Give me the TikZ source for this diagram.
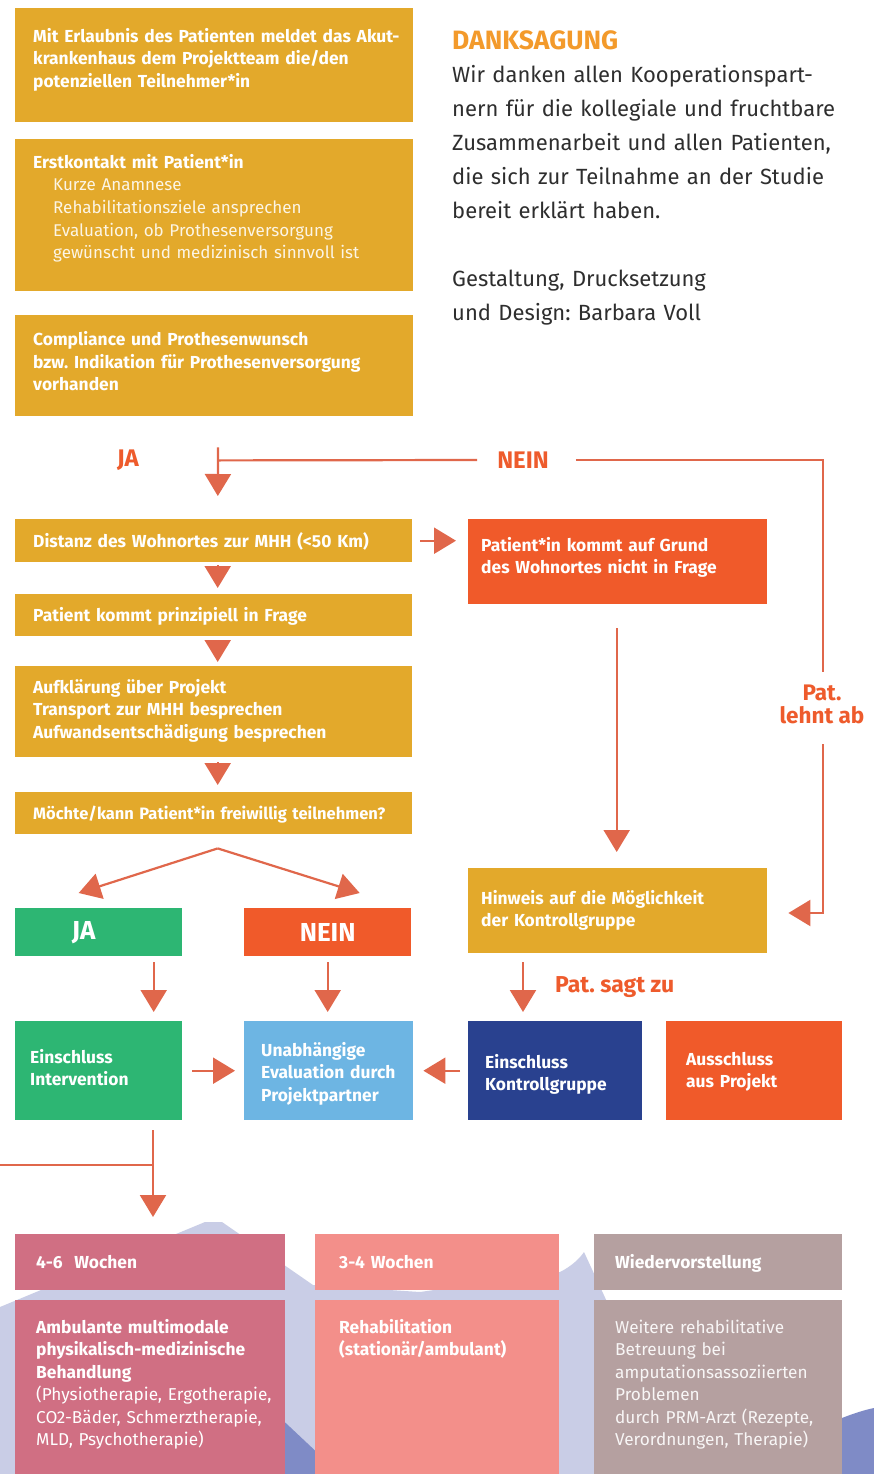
\documentclass[tikz,border=0pt]{standalone}
\usepackage{fontspec}
\setmainfont{Fira Sans}
\usetikzlibrary{arrows.meta,calc}
\frenchspacing
\definecolor{gold}{HTML}{E3A92B}
\definecolor{redo}{HTML}{F05A2A}
\definecolor{arrc}{HTML}{E0674B}
\definecolor{lblc}{HTML}{EE5B2C}
\definecolor{dank}{HTML}{F39A2B}
\definecolor{bodyc}{HTML}{2E2E2E}
\definecolor{grn}{HTML}{2DB673}
\definecolor{lblue}{HTML}{6DB5E3}
\definecolor{navy}{HTML}{29418F}
\definecolor{pinkc}{HTML}{D06F83}
\definecolor{salm}{HTML}{F38F8A}
\definecolor{taupe}{HTML}{B5A0A0}
\definecolor{lav}{HTML}{C9CDE6}
\definecolor{lavd}{HTML}{7F8BC6}
\tikzset{
  box/.style={draw=none, inner sep=0pt, anchor=north west, fill=#1},
  wb/.style={anchor=base west, align=left, inner sep=0pt, text=white, text width=#1,
    font=\fontsize{17.4}{22.5}\selectfont\bfseries},
  wr/.style={anchor=base west, align=left, inner sep=0pt, text=white!88!gold, text width=#1,
    font=\fontsize{17}{22.5}\selectfont},
  cb/.style={anchor=base west, align=left, inner sep=0pt, text=white, text width=#1,
    font=\fontsize{17.4}{22.5}\selectfont\bfseries},
  cr/.style={anchor=base west, align=left, inner sep=0pt, text=white, text width=#1,
    font=\fontsize{17.2}{22.5}\selectfont},
  arr/.style={draw=arrc, line width=2.2pt, -{Triangle[width=26pt,length=22pt]}},
  ln/.style={draw=arrc, line width=2.2pt},
  lbl/.style={text=lblc, inner sep=0pt, font=\fontsize{24}{24}\selectfont\bfseries},
}
\begin{document}
\begin{tikzpicture}[x=1pt,y=-1pt]
\useasboundingbox[fill=white] (0,0) rectangle (874,1474);
% background mountains
\fill[lav] (0,1307) -- (205,1222) -- (222,1222) -- (313,1285) -- (420,1292) -- (560,1272)
  .. controls (572,1266) and (580,1258) .. (584,1252) -- (620,1330) -- (700,1474) -- (0,1474) -- cycle;
\fill[lavd] (150,1474) -- (240,1380) -- (340,1474) -- cycle;
\fill[lavd] (760,1474) -- (842,1418) .. controls (852,1414) and (864,1410) .. (874,1408) -- (874,1474) -- cycle;

% boxes
\node[box=gold, minimum width=398pt, minimum height=114pt] (b1) at (15,8) {};
\node[box=gold, minimum width=398pt, minimum height=152pt] (b2) at (15,139) {};
\node[box=gold, minimum width=398pt, minimum height=101pt] (b3) at (15,315) {};
\node[box=gold, minimum width=397pt, minimum height=43pt] (dist) at (15,519) {};
\node[box=gold, minimum width=397pt, minimum height=42pt] (prin) at (15,594) {};
\node[box=gold, minimum width=397pt, minimum height=91pt] (auf) at (15,666) {};
\node[box=gold, minimum width=397pt, minimum height=42pt] (moe) at (15,792) {};
\node[box=redo, minimum width=299pt, minimum height=85pt] (pnot) at (468,519) {};
\node[box=grn, minimum width=167pt, minimum height=48pt] (ja) at (15,908) {};
\node[box=redo, minimum width=167pt, minimum height=48pt] (nein) at (244,908) {};
\node[box=gold, minimum width=299pt, minimum height=85pt] (hin) at (468,868) {};
\node[box=grn, minimum width=167pt, minimum height=99pt] (ein) at (15,1021) {};
\node[box=lblue, minimum width=169pt, minimum height=99pt] (una) at (244,1021) {};
\node[box=navy, minimum width=174pt, minimum height=99pt] (kon) at (468,1021) {};
\node[box=redo, minimum width=176pt, minimum height=99pt] (aus) at (666,1021) {};
\node[box=pinkc, minimum width=270pt, minimum height=56pt] (h1) at (15,1234) {};
\node[box=salm, minimum width=244pt, minimum height=56pt] (h2) at (315,1234) {};
\node[box=taupe, minimum width=248pt, minimum height=56pt] (h3) at (594,1234) {};
\node[box=pinkc, minimum width=270pt, minimum height=174pt] (c1) at (15,1300) {};
\node[box=salm, minimum width=244pt, minimum height=174pt] (c2) at (315,1300) {};
\node[box=taupe, minimum width=248pt, minimum height=174pt] (c3) at (594,1300) {};

% texts in boxes
\node[wb=385pt] (t1) at (33,42.5) {Mit Erlaubnis des Patienten meldet das Akut-\\krankenhaus dem Projektteam die/den\\potenziellen Teilnehmer*in};
\node[wb=385pt] (t2) at (33,168.5) {Erstkontakt mit Patient*in};
\node[wr=360pt] (t2r) at (53,191) {Kurze Anamnese\\Rehabilitationsziele ansprechen\\Evaluation, ob Prothesenversorgung\\gewünscht und medizinisch sinnvoll ist};
\node[wb=385pt] (t3) at (33,345.5) {Compliance und Prothesenwunsch\\bzw. Indikation für Prothesenversorgung\\vorhanden};
\node[wb=375pt] (tdist) at (33,547) {Distanz des Wohnortes zur MHH (<50 Km)};
\node[wb=375pt] (tprin) at (33,621) {Patient kommt prinzipiell in Frage};
\node[wb=375pt] (tauf) at (33,693) {Aufklärung über Projekt\\Transport zur MHH besprechen\\Aufwandsentschädigung besprechen};
\node[wb=375pt, font=\fontsize{16.5}{20}\selectfont\bfseries] (tmoe) at (33,819) {Möchte/kann Patient*in freiwillig teilnehmen?};
\node[wb=285pt] (tpnot) at (481,551) {Patient*in kommt auf Grund\\des Wohnortes nicht in Frage};
\node[text=white, inner sep=0pt, font=\fontsize{26}{26}\selectfont\bfseries] (tja) at ($(ja.center)+(-15,0)$) {JA};
\node[text=white, inner sep=0pt, font=\fontsize{26}{26}\selectfont\bfseries] (tnein) at (nein.center) {NEIN};
\node[wb=285pt] (thin) at (481,904) {Hinweis auf die Möglichkeit\\der Kontrollgruppe};
\node[wb=150pt] (tein) at (30,1063) {Einschluss\\Intervention};
\node[wb=160pt] (tuna) at (261,1056) {Unabhängige\\Evaluation durch\\Projektpartner};
\node[wb=165pt] (tkon) at (485,1068) {Einschluss\\Kontrollgruppe};
\node[wb=160pt] (taus) at (686,1065) {Ausschluss\\aus Projekt};
\node[cb=240pt] (th1) at (36,1268.5) {4-6\ \ Wochen};
\node[cb=220pt] (th2) at (339,1268.5) {3-4 Wochen};
\node[cb=230pt] (th3) at (615,1268.5) {Wiedervorstellung};
\node[cb=255pt] (tc1) at (36,1333) {Ambulante multimodale\\physikalisch-medizinische\\Behandlung};
\node[cr=255pt] (tc1r) at (36,1400.5) {(Physiotherapie, Ergotherapie,\\CO2-Bäder, Schmerztherapie,\\MLD, Psychotherapie)};
\node[cb=225pt] (tc2) at (339,1333) {Rehabilitation\\(stationär/ambulant)};
\node[cr=235pt, text=white!90!taupe] (tc3) at (615,1333) {Weitere rehabilitative\\Betreuung bei\\amputationsassoziierten\\Problemen\\durch PRM-Arzt (Rezepte,\\Verordnungen, Therapie)};

% right text block
\node[anchor=base west, inner sep=0pt, text=dank, font=\fontsize{26.5}{28}\selectfont\bfseries] (dk) at (452,50) {DANKSAGUNG};
\node[anchor=base west, inner sep=0pt, text=bodyc, text width=420pt, align=left,
  font=\fontsize{22}{34}\selectfont] (dt) at (452,82.5) {Wir danken allen Kooperationspart-\\nern für die kollegiale und fruchtbare\\Zusammenarbeit und allen Patienten,\\die sich zur Teilnahme an der Studie\\bereit erklärt haben.\\[34pt]Gestaltung, Drucksetzung\\und Design: Barbara Voll};

% labels
\node[lbl] (lja) at (128,460) {JA};
\node[lbl] (lnein) at (523,460) {NEIN};
\node[lbl, align=center, font=\fontsize{22.5}{23}\selectfont\bfseries] (lehnt) at (822,704.5) {Pat.\\lehnt ab};
\node[lbl, anchor=base west, font=\fontsize{23}{24}\selectfont\bfseries] (lsagt) at (555,992.5) {Pat. sagt zu};

% connectors
\coordinate (rt) at (823,460);
\coordinate (rb) at (823,913);
\draw[arr, shorten <=31pt, shorten >=23pt] ($(b3.south)+(4,0)$) -- ($(dist.north)+(4,0)$);
\draw[ln] ($(b3.south)+(4,44)$) -- ($(lnein.west)+(-20,0)$);
\draw[ln] ($(lnein.east)+(27,0)$) -- (rt) -- ($(rt |- lehnt.north)+(0,-13)$);
\draw[arr, shorten >=21pt] ($(rt |- lehnt.south)+(0,20)$) -- (rb) -- (rb -| hin.east);
\draw[arr, shorten <=8pt, shorten >=12pt] (dist.east) -- (dist.east -| pnot.west);
\draw[arr, shorten <=3pt, shorten >=6pt] ($(dist.south)+(4,0)$) -- ($(prin.north)+(4,0)$);
\draw[arr, shorten <=5pt, shorten >=4pt] ($(prin.south)+(4,0)$) -- ($(auf.north)+(4,0)$);
\draw[arr, shorten <=5pt, shorten >=7pt] ($(auf.south)+(4,0)$) -- ($(moe.north)+(4,0)$);
\coordinate (apex) at ($(moe.south)+(4,14)$);
\draw[arr] (apex) -- ($(ja.north)+(-20,-15)$);
\draw[arr] (apex) -- ($(nein.north)+(32,-15)$);
\draw[arr, shorten <=6pt, shorten >=9pt] ($(ja.south)+(55,0)$) -- ($(ja.south |- ein.north)+(55,0)$);
\draw[arr, shorten <=6pt, shorten >=9pt] (nein.south) -- (nein.south |- una.north);
\draw[arr, shorten <=24pt, shorten >=16pt] ($(pnot.south)+(-1,0)$) -- ($(pnot.south |- hin.north)+(-1,0)$);
\draw[arr, shorten <=9pt, shorten >=9pt] ($(hin.south west)+(55,0)$) -- ($(hin.south west |- kon.north)+(55,0)$);
\draw[arr, shorten <=10pt, shorten >=9pt] (ein.east) -- (ein.east -| una.west);
\draw[arr, shorten <=8pt, shorten >=10pt] (kon.west) -- (kon.west -| una.east);
\draw[arr, shorten <=10pt, shorten >=17pt] ($(ein.south west)+(138,0)$) -- ($(ein.south west |- h1.north)+(138,0)$);
\coordinate (lft) at (0,1165);
\draw[ln] (lft) -- ($(lft -| ein.south west)+(138,0)$);
\end{tikzpicture}
\end{document}
